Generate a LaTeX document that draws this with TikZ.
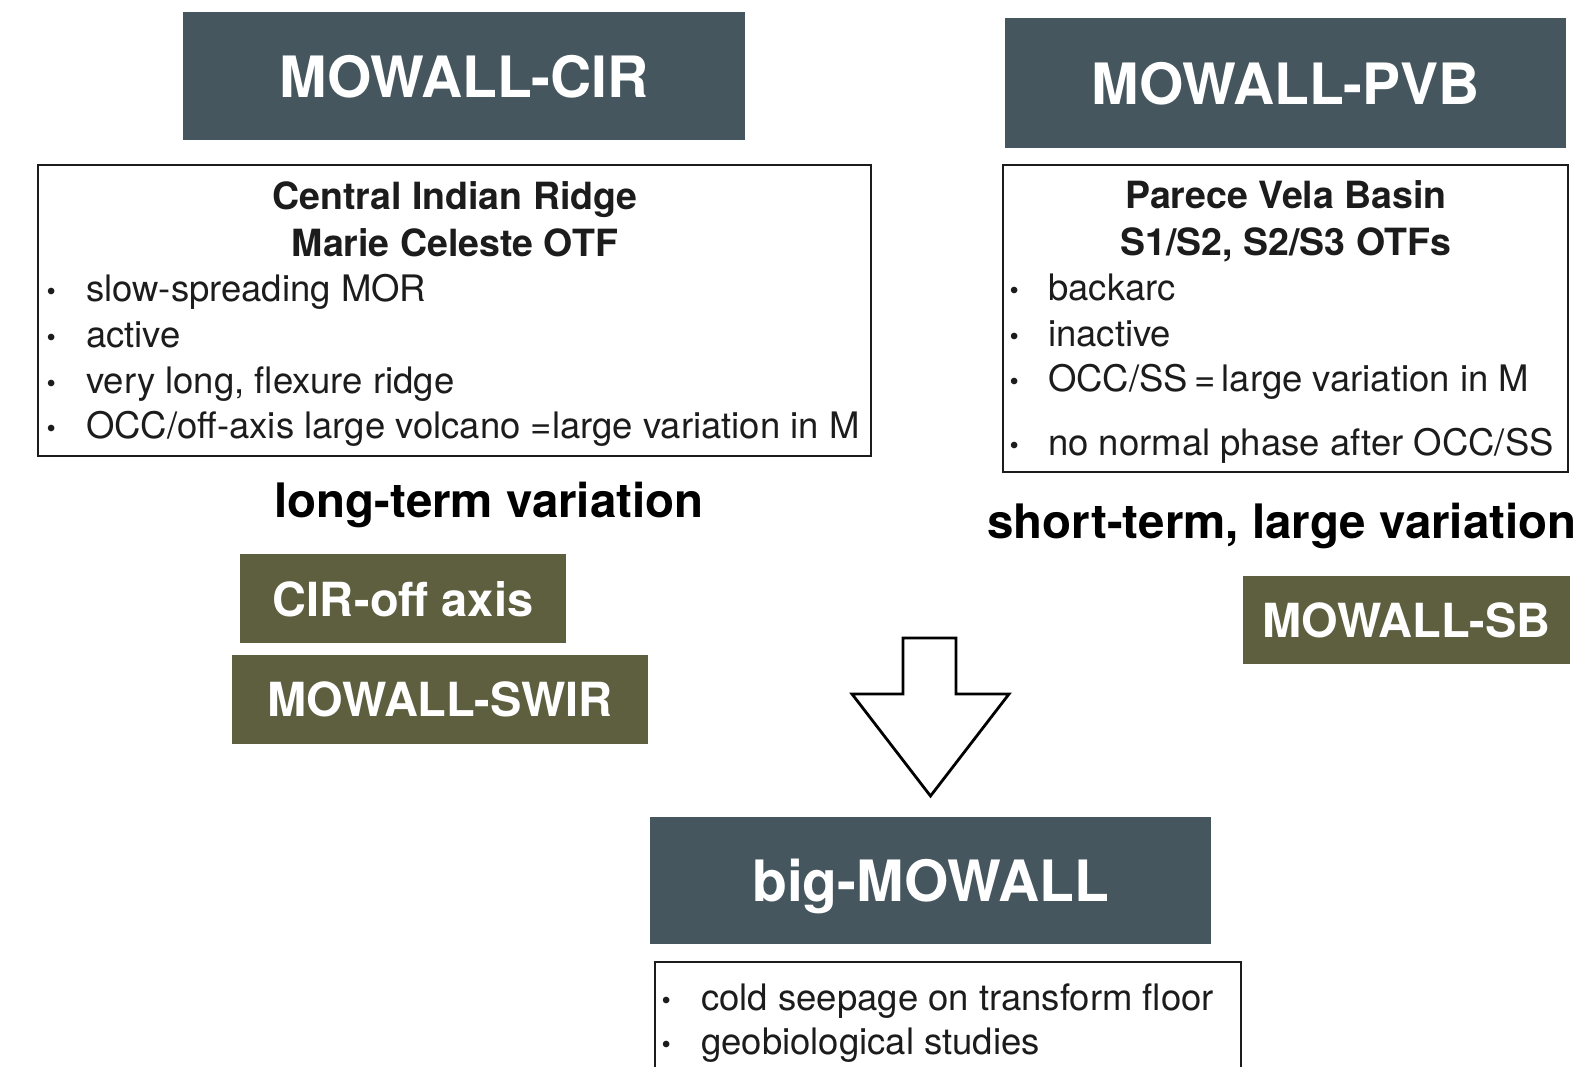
\documentclass[tikz,border=0pt]{standalone}
\usepackage{fontspec}
\setmainfont{TeX Gyre Heros}
\definecolor{slate}{RGB}{69,86,94}
\definecolor{olive}{RGB}{94,95,63}
\definecolor{ink}{RGB}{28,28,28}
\newcommand\fsz[1]{\fontsize{#1}{#1}\selectfont}
\tikzset{
 hdr/.style={fill=slate,text=white,inner sep=0pt,text depth=0pt,font=\fsz{57}\bfseries},
 subbox/.style={fill=olive,text=white,inner sep=0pt,text depth=0pt,font=\fsz{47}\bfseries},
 infobox/.style={draw=ink,line width=2.8pt,inner sep=0pt},
 boxtitle/.style={anchor=base,text=ink,inner sep=0pt,font=\fsz{37.5}\bfseries},
 itemtext/.style={anchor=base west,text=ink,inner sep=0pt,font=\fsz{36.5}},
 bulletmark/.style={anchor=base,text=ink,inner sep=0pt,font=\fsz{44}\bfseries},
 vartext/.style={anchor=base,text=black,inner sep=0pt,font=\fsz{47.5}\bfseries},
}
\begin{document}
\begin{tikzpicture}[x=1pt,y=-1pt]
\useasboundingbox[fill=white] (0,0) rectangle (1585,1066);

% headers
\node[hdr,minimum width=562pt,minimum height=128pt] (cir) at (464,76) {MOWALL-CIR};
\node[hdr,minimum width=561pt,minimum height=130pt] (pvb) at (1285.5,83) {MOWALL-PVB};
\node[hdr,minimum width=561pt,minimum height=127pt] (big) at (930.5,880.5) {big-MOWALL};

% CIR info box
\node[infobox,minimum width=833pt,minimum height=291pt] (cirbox) at (454.5,310.5) {};
\node[boxtitle] (cirt1) at (455,209) {Central Indian Ridge};
\node[boxtitle] (cirt2) at (455,256) {Marie Celeste OTF};
\node[bulletmark] (cb1) at (52,302) {·};
\node[itemtext] (ci1) at (86,301) {slow-spreading MOR};
\node[bulletmark] (cb2) at (52,348) {·};
\node[itemtext] (ci2) at (86,347) {active};
\node[bulletmark] (cb3) at (52,394) {·};
\node[itemtext] (ci3) at (86,393) {very long, flexure ridge};
\node[bulletmark] (cb4) at (52,439) {·};
\node[itemtext] (ci4) at (86,438) {OCC/off-axis large volcano =large variation in M};

% PVB info box
\node[infobox,minimum width=565pt,minimum height=307pt] (pvbbox) at (1285.5,318.5) {};
\node[boxtitle] (pvbt1) at (1286,208) {Parece Vela Basin};
\node[boxtitle] (pvbt2) at (1286,255) {S1/S2, S2/S3 OTFs};
\node[bulletmark] (pb1) at (1015,301) {·};
\node[itemtext] (pi1) at (1048,300) {backarc};
\node[bulletmark] (pb2) at (1015,347) {·};
\node[itemtext] (pi2) at (1048,346) {inactive};
\node[bulletmark] (pb3) at (1015,392) {·};
\node[itemtext] (pi3) at (1048,391) {OCC/SS\,=\,large variation in M};
\node[bulletmark] (pb4) at (1015,456) {·};
\node[itemtext] (pi4) at (1048,455) {no normal phase after OCC/SS};

% variation captions
\node[vartext] (lt) at (489,517) {long-term variation};
\node[vartext] (st) at (1282,538) {short-term, large variation};

% olive boxes
\node[subbox,minimum width=326pt,minimum height=89pt] (off) at (403,598.5) {CIR-off axis};
\node[subbox,minimum width=416pt,minimum height=89pt] (swir) at (440,699.5) {MOWALL-SWIR};
\node[subbox,minimum width=327pt,minimum height=88pt] (sb) at (1406.5,620) {MOWALL-SB};

% block arrow
\draw[line width=2.8pt,fill=white,line join=miter]
  (903,638) -- (956,638) -- (956,694) -- (1009,694) -- (930.5,796)
  -- (852,694) -- (903,694) -- cycle;

% bottom info box (runs off the page)
\node[infobox,minimum width=586pt,minimum height=140pt] (bigbox) at (948,1032) {};
\node[bulletmark] (bb1) at (667,1011) {·};
\node[itemtext] (bi1) at (701,1010) {cold seepage on transform floor};
\node[bulletmark] (bb2) at (667,1055) {·};
\node[itemtext] (bi2) at (701,1054) {geobiological studies};
\end{tikzpicture}
\end{document}
